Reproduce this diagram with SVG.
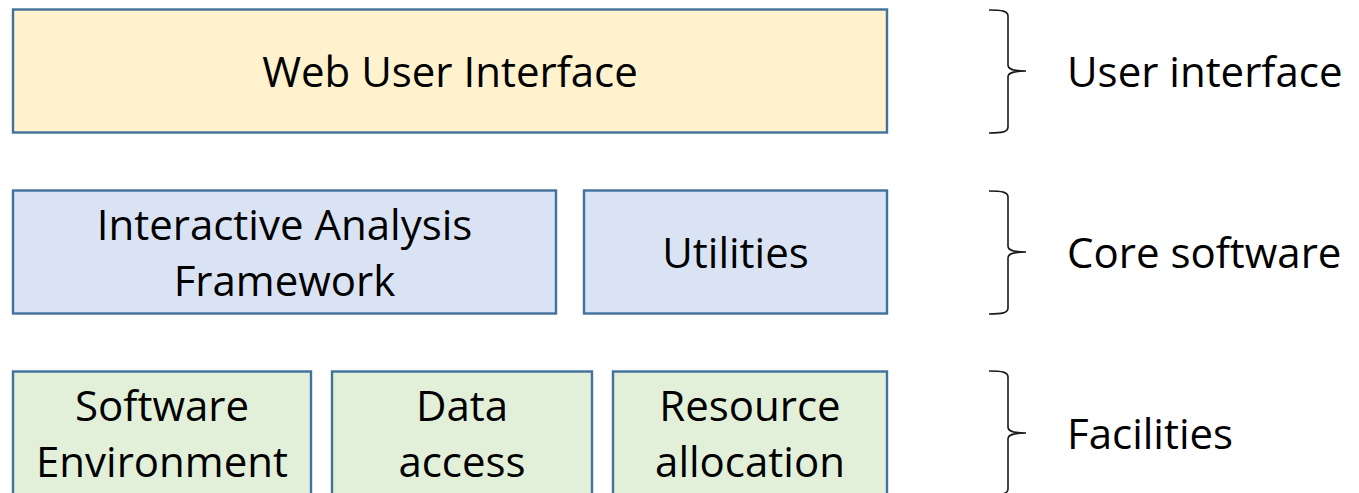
<svg xmlns="http://www.w3.org/2000/svg" width="1359" height="493" viewBox="0 0 1359 493">
  <style>
    .box { stroke: #41719C; stroke-width: 2.4; }
    .ui { fill: #FFF2CC; }
    .core { fill: #DAE3F3; }
    .fac { fill: #E2F0D9; }
    .lbl { font-family: "Open Sans", "Liberation Sans", sans-serif; font-size: 42px; fill: #000000; }
    .mid { text-anchor: middle; }
    .brace { fill: none; stroke: #1a1a1a; stroke-width: 1.6; stroke-linejoin: miter; }
  </style>
  <rect width="1359" height="493" fill="#FFFFFF"/>

  <!-- top layer -->
  <g id="web-ui">
    <rect class="box ui" x="13" y="9.5" width="874" height="123"/>
    <text class="lbl mid" x="450" y="87">Web User Interface</text>
  </g>

  <!-- core layer -->
  <g id="analysis-framework">
    <rect class="box core" x="13" y="190.5" width="543" height="123"/>
    <text class="lbl mid" x="284.5" y="240">Interactive Analysis</text>
    <text class="lbl mid" x="284.5" y="296">Framework</text>
  </g>
  <g id="utilities">
    <rect class="box core" x="584" y="190.5" width="303" height="123"/>
    <text class="lbl mid" x="735.5" y="268">Utilities</text>
  </g>

  <!-- facilities layer -->
  <g id="software-environment">
    <rect class="box fac" x="13" y="371.5" width="298" height="124"/>
    <text class="lbl mid" x="162" y="421">Software</text>
    <text class="lbl mid" x="162" y="477">Environment</text>
  </g>
  <g id="data-access">
    <rect class="box fac" x="332" y="371.5" width="260" height="124"/>
    <text class="lbl mid" x="462" y="421">Data</text>
    <text class="lbl mid" x="462" y="477">access</text>
  </g>
  <g id="resource-allocation">
    <rect class="box fac" x="613" y="371.5" width="274" height="124"/>
    <text class="lbl mid" x="750" y="421">Resource</text>
    <text class="lbl mid" x="750" y="477">allocation</text>
  </g>

  <!-- layer braces -->
  <g id="braces">
    <path class="brace" d="M989,10 C1002,10 1008,11 1008,16 L1008,65 C1008,69 1012,71 1026,71 C1012,71 1008,73 1008,77 L1008,127 C1008,132 1002,133 989,133"/>
    <path class="brace" d="M989,191 C1002,191 1008,192 1008,197 L1008,246 C1008,250 1012,252 1026,252 C1012,252 1008,254 1008,258 L1008,308 C1008,313 1002,314 989,314"/>
    <path class="brace" d="M989,371 C1002,371 1008,372 1008,377 L1008,427 C1008,431 1012,433 1026,433 C1012,433 1008,435 1008,439 L1008,489 C1008,494 1002,495 989,495"/>
  </g>

  <!-- layer names -->
  <g id="layer-names">
    <text class="lbl" x="1067" y="87">User interface</text>
    <text class="lbl" x="1067" y="268">Core software</text>
    <text class="lbl" x="1067" y="449">Facilities</text>
  </g>
</svg>
